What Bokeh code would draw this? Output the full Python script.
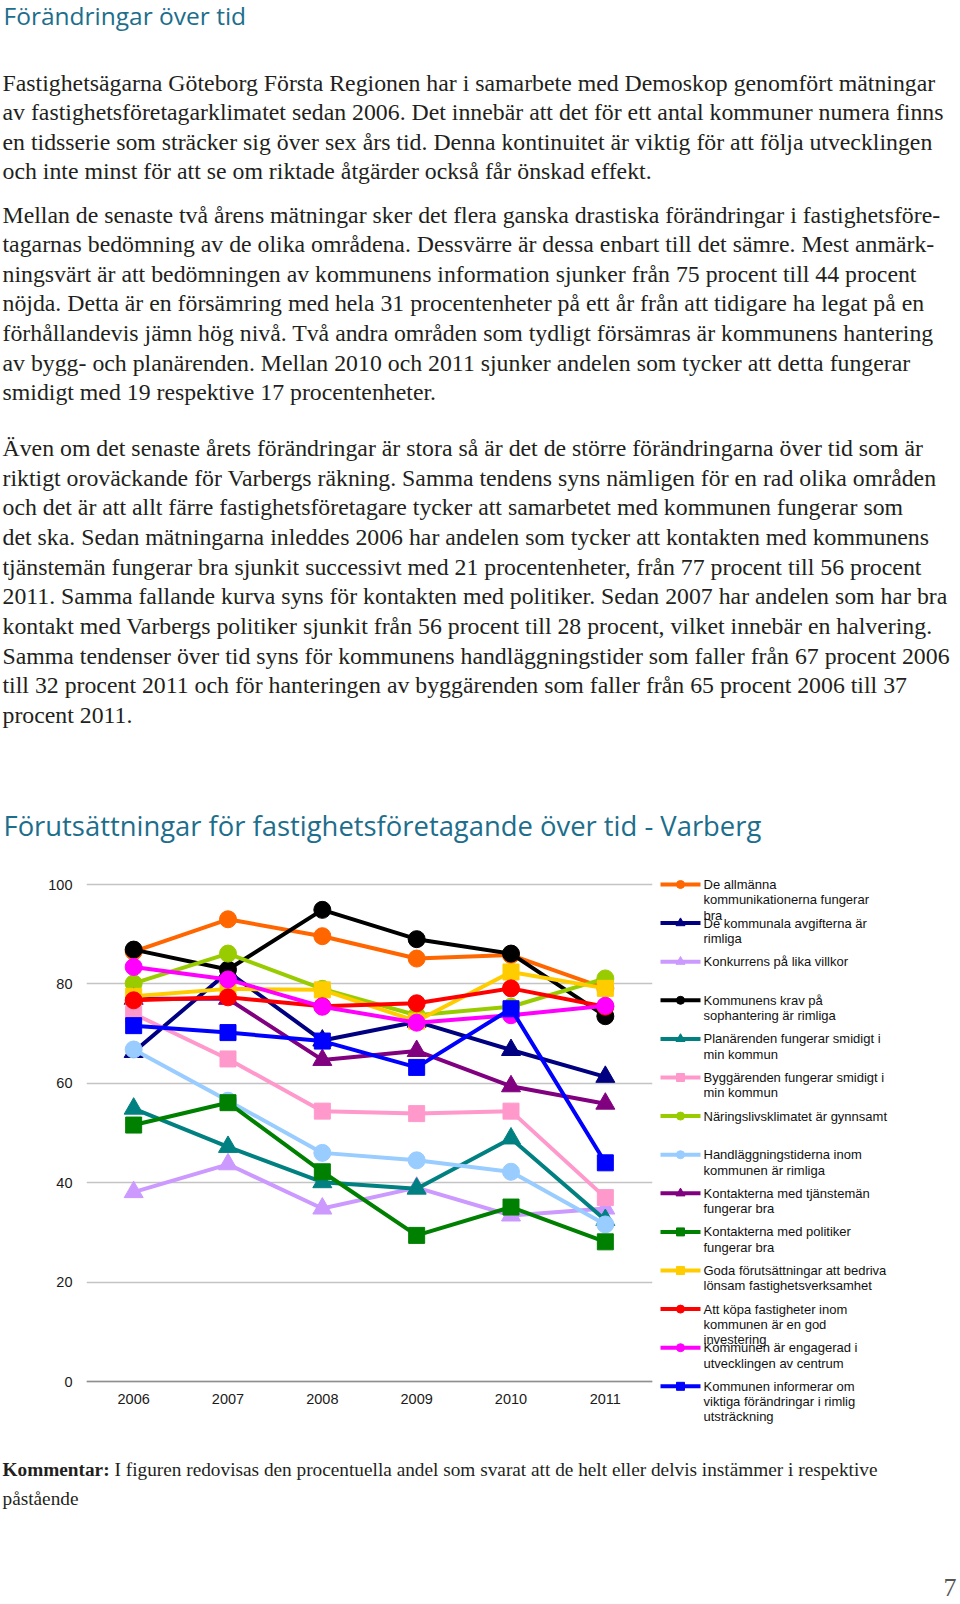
from bokeh.plotting import figure
from bokeh.layouts import column, row
from bokeh.models import Range1d, FactorRange, FixedTicker, ColumnDataSource
from bokeh.core.properties import value
from bokeh.embed import file_html
from bokeh.resources import INLINE

# ---------------- data ----------------
years = ["2006", "2007", "2008", "2009", "2010", "2011"]
y_ticks = [0, 20, 40, 60, 80, 100]

kommunikationer = [86.5, 93.0, 89.6, 85.1, 85.8, 79.1]
avgifter = [66.3, 82.4, 68.6, 72.4, 66.7, 61.3]
konkurrens = [38.1, 43.7, 34.8, 39.0, 33.4, 34.8]
sophantering = [86.9, 82.9, 94.9, 89.0, 86.1, 73.5]
planarenden = [54.9, 47.2, 40.1, 38.8, 48.9, 32.5]
byggarenden = [74.0, 64.9, 54.4, 53.9, 54.4, 37.0]
naringsliv = [80.1, 86.1, 79.0, 73.7, 75.4, 81.1]
handlaggning = [66.8, 56.5, 46.0, 44.5, 42.2, 31.6]
tjansteman = [77.0, 77.0, 64.7, 66.5, 59.4, 55.9]
politiker = [51.6, 56.1, 42.2, 29.4, 35.1, 28.1]
forutsattningar = [77.5, 79.0, 78.8, 72.5, 82.4, 79.1]
kopa = [76.7, 77.3, 75.5, 76.1, 79.1, 75.4]
centrum = [83.4, 80.9, 75.4, 72.2, 73.7, 75.6]
informerar = [71.6, 70.2, 68.5, 63.2, 75.0, 44.0]

series_labels = [
    ["De allmänna", "kommunikationerna fungerar", "bra"],
    ["De kommunala avgifterna är", "rimliga"],
    ["Konkurrens på lika villkor"],
    ["Kommunens krav på", "sophantering är rimliga"],
    ["Planärenden fungerar smidigt i", "min kommun"],
    ["Byggärenden fungerar smidigt i", "min kommun"],
    ["Näringslivsklimatet är gynnsamt"],
    ["Handläggningstiderna inom", "kommunen är rimliga"],
    ["Kontakterna med tjänstemän", "fungerar bra"],
    ["Kontakterna med politiker", "fungerar bra"],
    ["Goda förutsättningar att bedriva", "lönsam fastighetsverksamhet"],
    ["Att köpa fastigheter inom", "kommunen är en god", "investering"],
    ["Kommunen är engagerad i", "utvecklingen av centrum"],
    ["Kommunen informerar om", "viktiga förändringar i rimlig", "utsträckning"],
]
series_values = [kommunikationer, avgifter, konkurrens, sophantering, planarenden,
                 byggarenden, naringsliv, handlaggning, tjansteman, politiker,
                 forutsattningar, kopa, centrum, informerar]
series_colors = ["#ff6600", "#000080", "#cc99ff", "#000000", "#008080", "#ff99cc",
                 "#99cc00", "#99ccff", "#800080", "#008000", "#ffcc00", "#ff0000",
                 "#ff00ff", "#0000ff"]
series_markers = ["circle", "triangle", "triangle", "circle", "triangle", "square",
                  "circle", "circle", "triangle", "square", "square", "circle",
                  "circle", "square"]

title_text = "Förändringar över tid"
chart_title_text = "Förutsättningar för fastighetsföretagande över tid - Varberg"
para1 = [
    "Fastighetsägarna Göteborg Första Regionen har i samarbete med Demoskop genomfört mätningar",
    "av fastighetsföretagarklimatet sedan 2006. Det innebär att det för ett antal kommuner numera finns",
    "en tidsserie som sträcker sig över sex års tid. Denna kontinuitet är viktig för att följa utvecklingen",
    "och inte minst för att se om riktade åtgärder också får önskad effekt.",
]
para2 = [
    "Mellan de senaste två årens mätningar sker det flera ganska drastiska förändringar i fastighetsföre-",
    "tagarnas bedömning av de olika områdena. Dessvärre är dessa enbart till det sämre. Mest anmärk-",
    "ningsvärt är att bedömningen av kommunens information sjunker från 75 procent till 44 procent",
    "nöjda. Detta är en försämring med hela 31 procentenheter på ett år från att tidigare ha legat på en",
    "förhållandevis jämn hög nivå. Två andra områden som tydligt försämras är kommunens hantering",
    "av bygg- och planärenden. Mellan 2010 och 2011 sjunker andelen som tycker att detta fungerar",
    "smidigt med 19 respektive 17 procentenheter.",
]
para3 = [
    "Även om det senaste årets förändringar är stora så är det de större förändringarna över tid som är",
    "riktigt oroväckande för Varbergs räkning. Samma tendens syns nämligen för en rad olika områden",
    "och det är att allt färre fastighetsföretagare tycker att samarbetet med kommunen fungerar som",
    "det ska. Sedan mätningarna inleddes 2006 har andelen som tycker att kontakten med kommunens",
    "tjänstemän fungerar bra sjunkit successivt med 21 procentenheter, från 77 procent till 56 procent",
    "2011. Samma fallande kurva syns för kontakten med politiker. Sedan 2007 har andelen som har bra",
    "kontakt med Varbergs politiker sjunkit från 56 procent till 28 procent, vilket innebär en halvering.",
    "Samma tendenser över tid syns för kommunens handläggningstider som faller från 67 procent 2006",
    "till 32 procent 2011 och för hanteringen av byggärenden som faller från 65 procent 2006 till 37",
    "procent 2011.",
]
comment_bold = "Kommentar:"
comment_lines = ["I figuren redovisas den procentuella andel som svarat att de helt eller delvis instämmer i respektive",
                 "påstående"]
page_number = "7"

SERIF = value("Liberation Serif")
SANS = value("Liberation Sans")
HEAD = value("Open Sans")
TEXT_COLOR = "#231f20"
HEAD_COLOR = "#1c6e8c"


def blank(w, h, xr, yr):
    f = figure(width=w, height=h, x_range=xr, y_range=yr, output_backend="svg",
               toolbar_location=None, x_axis_type=None, y_axis_type=None,
               min_border=0, min_border_left=0, min_border_right=0,
               min_border_top=0, min_border_bottom=0)
    f.grid.visible = False
    f.outline_line_color = None
    f.background_fill_color = "white"
    f.border_fill_color = "white"
    return f


# ---------------- top text block ----------------
TOP_H = 870
top = blank(960, TOP_H, Range1d(0, 960), Range1d(TOP_H, 0))
top.text(x=[3], y=[15], text=[title_text], text_font=HEAD, text_font_size="24.5px",
         text_color=HEAD_COLOR, text_baseline="middle")

LH = 29.66
para_x, para_y, para_t = [], [], []
for start, lines in ((82.0, para1), (214.0, para2), (447.5, para3)):
    for i, t in enumerate(lines):
        para_x.append(2)
        para_y.append(start + i * LH)
        para_t.append(t)
top.text(x="x", y="y", text="t", source=ColumnDataSource(dict(x=para_x, y=para_y, t=para_t)),
         text_font=SERIF, text_font_size="23.8px", text_color=TEXT_COLOR, text_baseline="middle")
top.text(x=[3], y=[825], text=[chart_title_text], text_font=HEAD, text_font_size="27.4px",
         text_color=HEAD_COLOR, text_baseline="middle")

# ---------------- chart ----------------
# frame spans the whole chart band (870..1430 px); value 100 sits at 884 px, 0 at 1381 px
CH_H = 560
BAND_TOP, BAND_BOT = 870, 870 + CH_H
PX100, PX0 = 884, 1381
per_px = 100.0 / (PX0 - PX100)
y_lo = -(BAND_BOT - PX0) * per_px
y_hi = 100 + (PX100 - BAND_TOP) * per_px

chart = figure(width=655, height=CH_H, x_range=FactorRange(factors=years, range_padding=0),
               y_range=Range1d(y_lo, y_hi), output_backend="svg", toolbar_location=None,
               min_border=0, min_border_left=86, min_border_right=3,
               min_border_top=0, min_border_bottom=0)
chart.outline_line_color = None
chart.background_fill_color = "white"
chart.border_fill_color = "white"
chart.xgrid.visible = False
chart.ygrid.ticker = FixedTicker(ticks=y_ticks)
chart.ygrid.grid_line_color = "#c4c4c4"
chart.ygrid.grid_line_width = 1.4
chart.yaxis.ticker = FixedTicker(ticks=y_ticks)
chart.yaxis.axis_line_color = None
chart.yaxis.major_tick_line_color = None
chart.yaxis.minor_tick_line_color = None
chart.yaxis.major_label_standoff = 8
chart.xaxis.fixed_location = 0
chart.xaxis.axis_line_color = "#909090"
chart.xaxis.axis_line_width = 1.4
chart.xaxis.major_tick_line_color = None
chart.xaxis.minor_tick_line_color = None
chart.xaxis.major_label_standoff = 6
for ax in (chart.xaxis, chart.yaxis):
    ax.major_label_text_font = "Liberation Sans"
    ax.major_label_text_font_size = "14.5px"
    ax.major_label_text_color = "#1a1a1a"

msize = {"circle": 17, "square": 16, "triangle": 19}
for vals, col, mk in zip(series_values, series_colors, series_markers):
    chart.line(x=years, y=vals, line_color=col, line_width=4, line_join="round")
    chart.scatter(x=years, y=vals, marker=mk, size=msize[mk], fill_color=col, line_color=col)

# ---------------- legend ----------------
leg = blank(305, CH_H, Range1d(655, 960), Range1d(BAND_BOT, BAND_TOP))
L0, LSTEP, TL = 884.0, 38.6, 15.3
lx0, lx1, lm = 660, 700, 680
tx, ty, tt = [], [], []
for i, (lines, col, mk) in enumerate(zip(series_labels, series_colors, series_markers)):
    yy = L0 + i * LSTEP
    leg.segment(x0=[lx0], y0=[yy], x1=[lx1], y1=[yy], line_color=col, line_width=4)
    leg.scatter(x=[lm], y=[yy], marker=mk, size=8 if mk != "triangle" else 9,
                fill_color=col, line_color=col)
    for j, t in enumerate(lines):
        tx.append(703)
        ty.append(yy + j * TL)
        tt.append(t)
leg.text(x="x", y="y", text="t", source=ColumnDataSource(dict(x=tx, y=ty, t=tt)),
         text_font=SANS, text_font_size="13px", text_color="#111111", text_baseline="middle")

# ---------------- bottom ----------------
BOT_H = 1604 - TOP_H - CH_H
bot = blank(960, BOT_H, Range1d(0, 960), Range1d(BOT_H, 0))
bot.text(x=[2], y=[39], text=[comment_bold], text_font=SERIF, text_font_size="19.3px",
         text_font_style="bold", text_color=TEXT_COLOR, text_baseline="middle")
bot.text(x=[114, 2], y=[39, 68], text=comment_lines, text_font=SERIF, text_font_size="19.3px",
         text_color=TEXT_COLOR, text_baseline="middle")
bot.text(x=[956], y=[157], text=[page_number], text_font=SERIF, text_font_size="26px",
         text_color="#555555", text_baseline="middle", text_align="right")

layout = column(top, row(chart, leg), bot)
open("out.html", "w").write(file_html(layout, INLINE))
